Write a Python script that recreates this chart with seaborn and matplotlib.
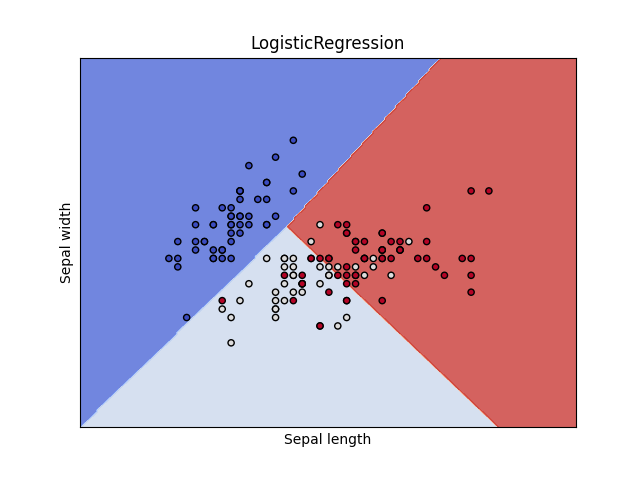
import numpy as np
import pandas as pd
import matplotlib
matplotlib.use("Agg")
import matplotlib.pyplot as plt
import seaborn as sns

# Iris: sepal length / sepal width, by species
setosa_len = [5.1, 4.9, 4.7, 4.6, 5.0, 5.4, 4.6, 5.0, 4.4, 4.9, 5.4, 4.8, 4.8, 4.3, 5.8, 5.7, 5.4, 5.1, 5.7, 5.1,
              5.4, 5.1, 4.6, 5.1, 4.8, 5.0, 5.0, 5.2, 5.2, 4.7, 4.8, 5.4, 5.2, 5.5, 4.9, 5.0, 5.5, 4.9, 4.4, 5.1,
              5.0, 4.5, 4.4, 5.0, 5.1, 4.8, 5.1, 4.6, 5.3, 5.0]
setosa_wid = [3.5, 3.0, 3.2, 3.1, 3.6, 3.9, 3.4, 3.4, 2.9, 3.1, 3.7, 3.4, 3.0, 3.0, 4.0, 4.4, 3.9, 3.5, 3.8, 3.8,
              3.4, 3.7, 3.6, 3.3, 3.4, 3.0, 3.4, 3.5, 3.4, 3.2, 3.1, 3.4, 4.1, 4.2, 3.1, 3.2, 3.5, 3.6, 3.0, 3.4,
              3.5, 2.3, 3.2, 3.5, 3.8, 3.0, 3.8, 3.2, 3.7, 3.3]
versicolor_len = [7.0, 6.4, 6.9, 5.5, 6.5, 5.7, 6.3, 4.9, 6.6, 5.2, 5.0, 5.9, 6.0, 6.1, 5.6, 6.7, 5.6, 5.8, 6.2, 5.6,
                  5.9, 6.1, 6.3, 6.1, 6.4, 6.6, 6.8, 6.7, 6.0, 5.7, 5.5, 5.5, 5.8, 6.0, 5.4, 6.0, 6.7, 6.3, 5.6, 5.5,
                  5.5, 6.1, 5.8, 5.0, 5.6, 5.7, 5.7, 6.2, 5.1, 5.7]
versicolor_wid = [3.2, 3.2, 3.1, 2.3, 2.8, 2.8, 3.3, 2.4, 2.9, 2.7, 2.0, 3.0, 2.2, 2.9, 2.9, 3.1, 3.0, 2.7, 2.2, 2.5,
                  3.2, 2.8, 2.5, 2.8, 2.9, 3.0, 2.8, 3.0, 2.9, 2.6, 2.4, 2.4, 2.7, 2.7, 3.0, 3.4, 3.1, 2.3, 3.0, 2.5,
                  2.6, 3.0, 2.6, 2.3, 2.7, 3.0, 2.9, 2.9, 2.5, 2.8]
virginica_len = [6.3, 5.8, 7.1, 6.3, 6.5, 7.6, 4.9, 7.3, 6.7, 7.2, 6.5, 6.4, 6.8, 5.7, 5.8, 6.4, 6.5, 7.7, 7.7, 6.0,
                 6.9, 5.6, 7.7, 6.3, 6.7, 7.2, 6.2, 6.1, 6.4, 7.2, 7.4, 7.9, 6.4, 6.3, 6.1, 7.7, 6.3, 6.4, 6.0, 6.9,
                 6.7, 6.9, 5.8, 6.8, 6.7, 6.7, 6.3, 6.5, 6.2, 5.9]
virginica_wid = [3.3, 2.7, 3.0, 2.9, 3.0, 3.0, 2.5, 2.9, 2.5, 3.6, 3.2, 2.7, 3.0, 2.5, 2.8, 3.2, 3.0, 3.8, 2.6, 2.2,
                 3.2, 2.8, 2.8, 2.7, 3.3, 3.2, 2.8, 3.0, 2.8, 3.0, 2.8, 3.8, 2.8, 2.8, 2.6, 3.0, 3.4, 3.1, 3.0, 3.1,
                 3.1, 3.1, 2.7, 3.2, 3.3, 3.0, 2.5, 3.0, 3.4, 3.0]

X = np.column_stack([setosa_len + versicolor_len + virginica_len,
                     setosa_wid + versicolor_wid + virginica_wid])
y = np.array([0] * 50 + [1] * 50 + [2] * 50)

# One-vs-rest logistic regression (liblinear-style: intercept penalised too), C = 1e5
C = 1e5
n = len(y)
K = 3
Xa = np.column_stack([X, np.ones(n)])
d = Xa.shape[1]
theta = np.zeros((K, d))
for k in range(K):
    t = np.where(y == k, 1.0, -1.0)
    w = np.zeros(d)
    for _ in range(300):
        m = t * (Xa @ w)
        s = 1.0 / (1.0 + np.exp(m))          # sigma(-m)
        g = w / C - (Xa * (t * s)[:, None]).sum(axis=0)
        r = s * (1.0 - s)
        H = np.eye(d) / C + (Xa * r[:, None]).T @ Xa
        step = np.linalg.solve(H, g)
        # backtracking line search on the objective
        def obj(v):
            return 0.5 / C * v @ v + np.logaddexp(0.0, -t * (Xa @ v)).sum()
        a = 1.0
        f0 = obj(w)
        while obj(w - a * step) > f0 and a > 1e-8:
            a *= 0.5
        w = w - a * step
    theta[k] = w

h = 0.02
x_min, x_max = X[:, 0].min() - 1, X[:, 0].max() + 1
y_min, y_max = X[:, 1].min() - 1, X[:, 1].max() + 1
xx, yy = np.meshgrid(np.arange(x_min, x_max, h), np.arange(y_min, y_max, h))
grid = np.column_stack([xx.ravel(), yy.ravel(), np.ones(xx.size)])
Z = np.argmax(grid @ theta.T, axis=1).reshape(xx.shape)

fig, ax = plt.subplots(figsize=(6.4, 4.8), dpi=100)
cmap = plt.cm.coolwarm
ax.contourf(xx, yy, Z, cmap=cmap, alpha=0.8)

df = pd.DataFrame({"Sepal length": X[:, 0], "Sepal width": X[:, 1], "species": y})
palette = {0: cmap(0.0), 1: cmap(0.5), 2: cmap(1.0)}
sns.scatterplot(data=df, x="Sepal length", y="Sepal width", hue="species", palette=palette,
                s=20, edgecolor="k", linewidth=1.0, legend=False, ax=ax)

ax.set_xlim(xx.min(), xx.max())
ax.set_ylim(yy.min(), yy.max())
ax.set_xticks(())
ax.set_yticks(())
ax.set_xlabel("Sepal length")
ax.set_ylabel("Sepal width")
ax.set_title("LogisticRegression")

fig.savefig("out.png", dpi=100)
